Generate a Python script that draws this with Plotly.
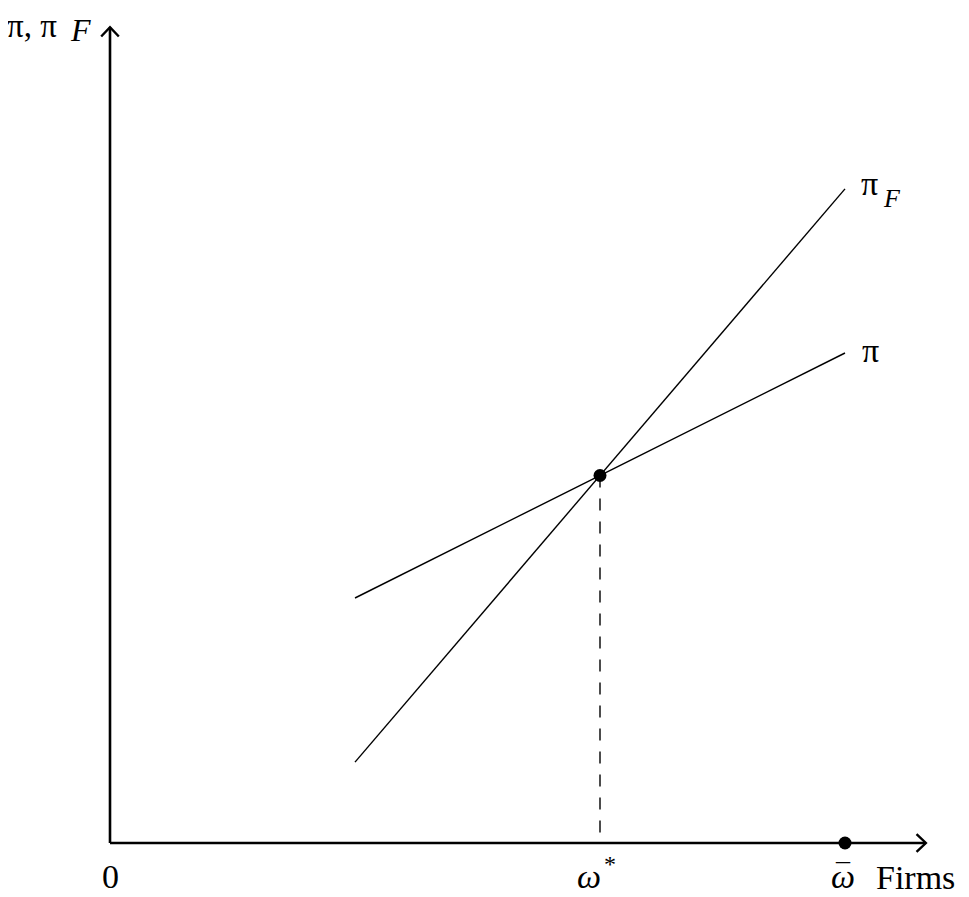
import plotly.graph_objects as go

# data (units: one step = distance from 0 to start of curves)
x_ends = [1, 3]
pi_vals = [1.0, 2.0]
piF_vals = [0.33, 2.67]
omega_star = 2
y_star = 1.5
omega_bar = 3
axis_max = 3.33

FONT = "Liberation Serif"
PX = 245  # pixels per unit
# page origin of the axes (the html body adds an 8px margin)
OX, OY, BODY = 110, 843, 8
fig = go.Figure()

# axes
fig.add_trace(go.Scatter(x=[0, axis_max], y=[0, 0], mode="lines",
                         line=dict(color="black", width=2.6), hoverinfo="skip"))
fig.add_trace(go.Scatter(x=[0, 0], y=[0, axis_max], mode="lines",
                         line=dict(color="black", width=2.6), hoverinfo="skip"))
# arrow heads (open chevrons)
a, b = 0.038, 0.036
fig.add_trace(go.Scatter(x=[axis_max - a, axis_max, axis_max - a],
                         y=[b, 0, -b], mode="lines",
                         line=dict(color="black", width=2.4), hoverinfo="skip"))
fig.add_trace(go.Scatter(x=[-b, 0, b],
                         y=[axis_max - a, axis_max, axis_max - a], mode="lines",
                         line=dict(color="black", width=2.4), hoverinfo="skip"))

# curves
fig.add_trace(go.Scatter(x=x_ends, y=piF_vals, mode="lines",
                         line=dict(color="black", width=1.4), hoverinfo="skip"))
fig.add_trace(go.Scatter(x=x_ends, y=pi_vals, mode="lines",
                         line=dict(color="black", width=1.4), hoverinfo="skip"))

# dashed drop line
fig.add_trace(go.Scatter(x=[omega_star, omega_star], y=[y_star, 0.03], mode="lines",
                         line=dict(color="black", width=1.4, dash="12px,11px"),
                         hoverinfo="skip"))

# points
fig.add_trace(go.Scatter(x=[omega_star, omega_bar], y=[y_star, 0], mode="markers",
                         marker=dict(color="black", size=13), hoverinfo="skip"))

def label(x, y, text, size=34, xanchor="center", yanchor="middle"):
    fig.add_annotation(x=x, y=y, text=text, showarrow=False, xanchor=xanchor,
                       yanchor=yanchor, borderpad=0,
                       font=dict(family=FONT, size=size, color="black"))

label(3.098, 2.69, "π")
label(3.19, 2.63, "<i>F</i>", size=26)
label(3.106, 2.01, "π")
label(-0.318, 3.335, "π, π", size=33)
label(-0.122, 3.32, "<i>F</i>", size=32)
label(0, -0.135, "0")
label(1.955, -0.135, "<i>ω</i>")
label(2.04, -0.085, "*", size=24)
label(omega_bar - 0.01, -0.135, "<i>ω</i>")
label(omega_bar - 0.01, -0.125, "¯", size=28)
label(3.122, -0.14, "Firms", xanchor="left")

fig.update_layout(
    width=969 - BODY, height=897 - BODY, autosize=False,
    margin=dict(l=0, r=0, t=0, b=0),
    showlegend=False,
    plot_bgcolor="white", paper_bgcolor="white",
    xaxis=dict(range=[(BODY - OX) / PX, (969 - OX) / PX], visible=False, fixedrange=True),
    yaxis=dict(range=[(OY - 897) / PX, (OY - BODY) / PX], visible=False, fixedrange=True),
)

fig.write_html("out.html")
